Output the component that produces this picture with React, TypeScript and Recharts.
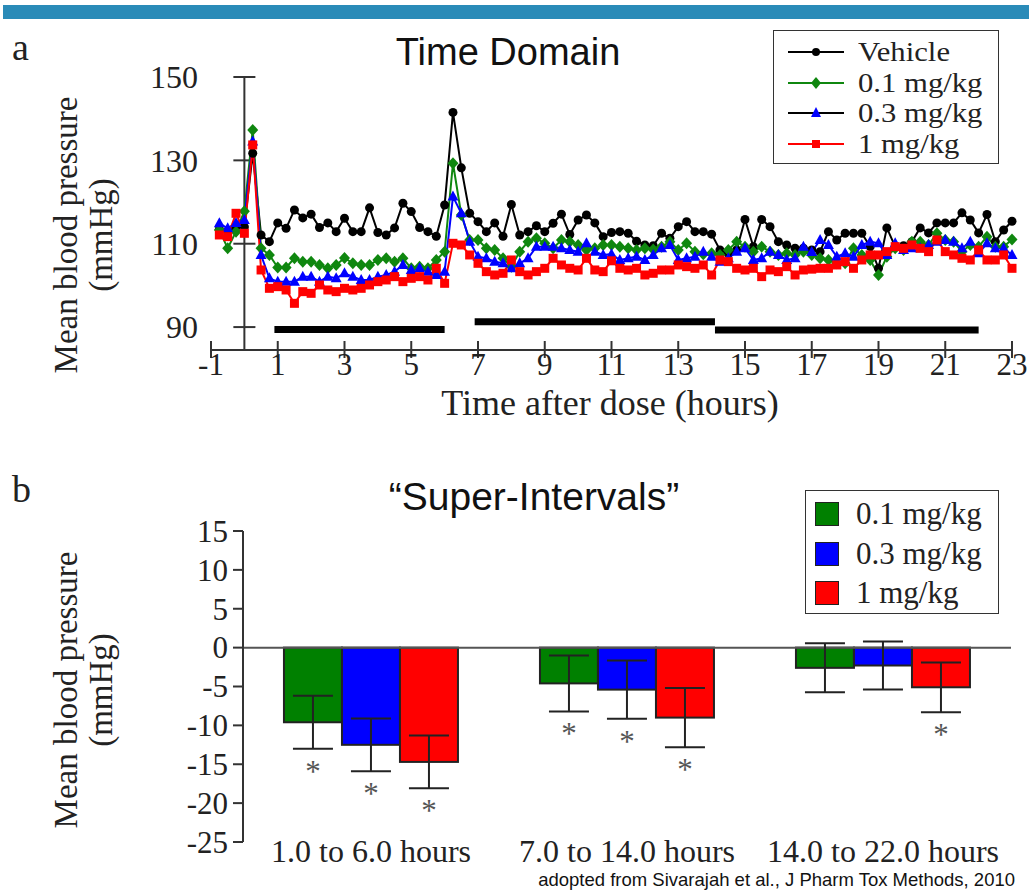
import React from "react";
import { LineChart, Line, XAxis, YAxis, ReferenceLine, BarChart, Bar, ErrorBar } from "recharts";

const SERIF = '"Liberation Serif", "Times New Roman", serif';
const SANS = '"Liberation Sans", Arial, sans-serif';

// ---- panel a: time domain (15 min samples) ----
const hours = [
  -0.75, -0.5, -0.25, 0, 0.25, 0.5, 0.75, 1, 1.25, 1.5, 1.75, 2, 2.25, 2.5, 2.75, 3,
  3.25, 3.5, 3.75, 4, 4.25, 4.5, 4.75, 5, 5.25, 5.5, 5.75, 6, 6.25, 6.5, 6.75, 7,
  7.25, 7.5, 7.75, 8, 8.25, 8.5, 8.75, 9, 9.25, 9.5, 9.75, 10, 10.25, 10.5, 10.75, 11,
  11.25, 11.5, 11.75, 12, 12.25, 12.5, 12.75, 13, 13.25, 13.5, 13.75, 14, 14.25, 14.5, 14.75, 15,
  15.25, 15.5, 15.75, 16, 16.25, 16.5, 16.75, 17, 17.25, 17.5, 17.75, 18, 18.25, 18.5, 18.75, 19,
  19.25, 19.5, 19.75, 20, 20.25, 20.5, 20.75, 21, 21.25, 21.5, 21.75, 22, 22.25, 22.5, 22.75, 23,
];

const vehicle = [
  113.5, 113, 114, 114, 131.7, 112.1, 110.5, 115.0, 113.7, 118.1, 116.2, 117.1, 113.9, 115.0, 112.9, 116.1,
  112.9, 112.9, 118.6, 112.7, 112.1, 113.8, 119.7, 117.7, 113.9, 112.9, 111.8, 119.3, 141.5, 128.2, 117.3, 115.3,
  112.9, 115.0, 111.8, 119.4, 112.1, 112.9, 114.3, 112.9, 114.9, 117.1, 112.2, 115.7, 116.9, 115.0, 111.7, 112.7,
  112.9, 112.5, 110.6, 109.7, 109.5, 112.5, 111.3, 114.1, 115.3, 112.9, 112.9, 112.3, 108.5, 107.7, 108.5, 115.8,
  109.3, 115.8, 114.1, 110.5, 109.7, 108.9, 108.9, 108.5, 108.1, 112.9, 110.9, 112.5, 112.5, 112.5, 109.3, 104.1,
  113.8, 109.3, 109.5, 110.5, 113.8, 112.6, 115.0, 115.0, 115.0, 117.4, 115.7, 112.6, 117.0, 110.5, 113.3, 115.4,
];

const dose01 = [
  113.3, 108.9, 112.9, 117.8, 137.3, 108.9, 107.3, 104.3, 104.3, 106.5, 105.7, 105.7, 104.9, 104.1, 104.9, 106.6,
  105.3, 104.9, 104.9, 106.1, 106.5, 105.7, 106.5, 104.1, 104.5, 104.1, 106.1, 108.1, 129.3, 116.9, 110.9, 110.9,
  108.9, 108.5, 106.5, 104.5, 108.1, 110.5, 111.3, 110.1, 108.9, 110.9, 110.5, 109.7, 108.5, 108.9, 109.7, 109.7,
  109.3, 108.9, 108.5, 108.9, 108.6, 109.3, 110.5, 108.5, 110.1, 108.1, 107.5, 107.7, 107.3, 108.5, 110.5, 109.3,
  108.1, 109.3, 108.1, 107.3, 107.7, 107.3, 108.1, 107.3, 106.5, 106.1, 105.3, 105.3, 108.9, 107.3, 106.1, 102.5,
  106.9, 108.9, 108.5, 110.5, 110.5, 109.7, 112.5, 110.9, 110.5, 108.1, 109.7, 109.3, 111.7, 109.3, 109.3, 111.0,
];

const dose03 = [
  114.9, 113.7, 115.0, 115.7, 134.5, 107.3, 101.7, 100.9, 100.9, 100.9, 102.1, 102.1, 100.9, 102.1, 101.7, 102.9,
  102.1, 101.3, 101.3, 102.1, 102.5, 103.3, 104.9, 103.7, 104.1, 103.3, 102.5, 103.3, 121.3, 117.3, 110.5, 106.9,
  106.5, 105.7, 105.3, 104.1, 105.3, 106.5, 109.3, 109.3, 109.3, 108.9, 108.5, 108.1, 110.1, 108.1, 107.3, 107.5,
  106.1, 106.5, 106.9, 106.1, 107.3, 108.9, 109.7, 106.1, 106.5, 106.9, 108.1, 106.9, 105.7, 106.5, 108.1, 108.9,
  106.1, 106.5, 108.1, 107.3, 106.1, 106.5, 109.3, 108.0, 110.9, 109.7, 106.9, 107.7, 106.9, 109.7, 110.5, 110.1,
  107.3, 110.1, 108.5, 108.9, 108.9, 109.7, 110.5, 110.9, 110.5, 108.9, 110.5, 107.7, 110.1, 108.9, 108.9, 107.3,
];

const dose1 = [
  112.1, 111.7, 117.3, 112.5, 133.7, 103.7, 99.3, 99.7, 98.9, 95.7, 98.5, 98.1, 100.1, 98.9, 98.5, 99.3,
  98.9, 99.3, 100.1, 100.9, 101.3, 102.1, 100.9, 101.7, 102.1, 101.3, 104.1, 100.5, 110.1, 109.7, 107.3, 105.3,
  103.3, 102.5, 102.9, 106.1, 103.3, 102.5, 103.3, 104.1, 106.5, 104.9, 104.1, 103.7, 106.5, 103.7, 103.3, 105.9,
  104.1, 103.7, 104.1, 102.5, 102.9, 103.7, 103.7, 104.9, 104.5, 104.1, 104.9, 102.5, 106.1, 105.7, 104.1, 103.7,
  104.1, 102.1, 103.7, 103.3, 104.5, 102.5, 103.7, 103.9, 104.1, 104.1, 104.9, 105.7, 104.1, 106.1, 107.3, 107.3,
  108.1, 109.3, 108.9, 109.7, 108.9, 108.1, 110.9, 108.1, 107.3, 106.5, 106.1, 108.5, 106.1, 106.1, 107.3, 104.1,
];

// super-interval bars under the traces: start h, end h, level
const intervalStart = [0.9, 6.9, 14.1];
const intervalEnd = [6.0, 14.1, 22.0];
const intervalLevel = [89.4, 91.3, 89.3];

const topXTicks = [-1, 1, 3, 5, 7, 9, 11, 13, 15, 17, 19, 21, 23];
const topYTicks = [90, 110, 130, 150];

// ---- panel b: super-intervals ----
const intervals = ["1.0 to 6.0 hours", "7.0 to 14.0 hours", "14.0 to 22.0 hours"];
const change01 = [-9.6, -4.6, -2.6];
const change03 = [-12.5, -5.4, -2.3];
const change1 = [-14.7, -9.0, -5.1];
const err01 = [3.4, 3.6, 3.15];
const err03 = [3.4, 3.75, 3.1];
const err1 = [3.4, 3.8, 3.2];
const sig01 = [true, true, false];
const sig03 = [true, true, false];
const sig1 = [true, true, true];
const bottomYTicks = [-25, -20, -15, -10, -5, 0, 5, 10, 15];

const timeRows = hours.map((t, i) => ({
  t,
  vehicle: vehicle[i],
  d01: dose01[i],
  d03: dose03[i],
  d1: dose1[i],
}));

const barRows = intervals.map((name, i) => ({
  name,
  d01: change01[i], e01: err01[i], s01: sig01[i],
  d03: change03[i], e03: err03[i], s03: sig03[i],
  d1: change1[i], e1: err1[i], s1: sig1[i],
}));

const GREEN = "#0f870f";
const BLUE = "#0000ff";
const RED = "#ff0000";

const circleDot = (p: any) => <circle key={p.index} cx={p.cx} cy={p.cy} r={4.5} fill="#000" />;
const diamondDot = (p: any) => (
  <polygon key={p.index} points={`${p.cx},${p.cy - 6} ${p.cx + 5.5},${p.cy} ${p.cx},${p.cy + 6} ${p.cx - 5.5},${p.cy}`} fill={GREEN} />
);
const triangleDot = (p: any) => (
  <polygon key={p.index} points={`${p.cx},${p.cy - 6} ${p.cx + 5.5},${p.cy + 4} ${p.cx - 5.5},${p.cy + 4}`} fill={BLUE} />
);
const squareDot = (p: any) => <rect key={p.index} x={p.cx - 4.5} y={p.cy - 4.5} width={9} height={9} fill={RED} />;

const TopYTick = ({ x, y, payload }: any) => (
  <text x={x} y={y} dy="0.35em" textAnchor="end" fontFamily={SERIF} fontSize={32} fill="#222">
    {payload.value}
  </text>
);

const TopXTick = ({ x, y, payload }: any) => (
  <g>
    <line x1={x} x2={x} y1={y - 9} y2={y + 8} stroke="#333" strokeWidth={2} />
    <text x={x} y={y + 25} textAnchor="middle" fontFamily={SERIF} fontSize={31} fill="#222">
      {payload.value}
    </text>
  </g>
);

const BottomYTick = ({ x, y, payload }: any) => (
  <text x={x} y={y} dy="0.35em" textAnchor="end" fontFamily={SERIF} fontSize={31} fill="#222">
    {payload.value}
  </text>
);

const BottomXTick = ({ x, y, payload }: any) => (
  <text x={x} y={y + 20} textAnchor="middle" fontFamily={SERIF} fontSize={32} fill="#222">
    {payload.value}
  </text>
);

const makeBarShape = (valueKey: string, errKey: string, sigKey: string) => (props: any) => {
  const { x, y, width, height, fill, payload } = props;
  const top = Math.min(y, y + height);
  const h = Math.abs(height);
  const v = Math.abs(payload[valueKey]);
  const ppu = v > 0 ? h / v : 0;
  const lower = top + h + payload[errKey] * ppu;
  return (
    <g>
      <rect x={x} y={top} width={width} height={h} fill={fill} stroke="#222" strokeWidth={2} />
      {payload[sigKey] && (
        <text x={x + width / 2} y={lower + 33} textAnchor="middle" fontFamily={SERIF} fontSize={31} fill="#555">
          *
        </text>
      )}
    </g>
  );
};

const legendLineItems = [
  { label: "Vehicle", line: "#000", dot: "circle" },
  { label: "0.1 mg/kg", line: GREEN, dot: "diamond" },
  { label: "0.3 mg/kg", line: "#000", dot: "triangle" },
  { label: "1 mg/kg", line: RED, dot: "square" },
];

const legendBarItems = [
  { label: "0.1 mg/kg", color: "#008000" },
  { label: "0.3 mg/kg", color: BLUE },
  { label: "1 mg/kg", color: RED },
];

const LegendMarker = ({ kind }: { kind: string }) => {
  if (kind === "circle") return <circle cx={28} cy={10} r={4} fill="#000" />;
  if (kind === "diamond") return <polygon points="28,4 33,10 28,16 23,10" fill={GREEN} />;
  if (kind === "triangle") return <polygon points="28,4 33,14 23,14" fill={BLUE} />;
  return <rect x={24} y={6} width={8} height={8} fill={RED} />;
};

const abs = (left: number, top: number, extra: React.CSSProperties = {}): React.CSSProperties => ({
  position: "absolute",
  left,
  top,
  ...extra,
});

export default function App() {
  return (
    <div style={{ position: "absolute", left: 0, top: 0, width: 1029, height: 890, background: "#fff", overflow: "hidden" }}>
      <div style={abs(3, 5, { width: 1026, height: 14, background: "#2a8bb8" })} />

      <div style={abs(12, 28, { fontFamily: SERIF, fontSize: 38, lineHeight: "38px", color: "#222" })}>a</div>
      <div style={abs(12, 470, { fontFamily: SERIF, fontSize: 38, lineHeight: "38px", color: "#222" })}>b</div>

      <div style={abs(508, 52, { transform: "translate(-50%, -50%)", fontFamily: SANS, fontSize: 38, whiteSpace: "nowrap", color: "#111" })}>
        Time Domain
      </div>
      <div style={abs(534, 497, { transform: "translate(-50%, -50%)", fontFamily: SANS, fontSize: 39, whiteSpace: "nowrap", color: "#111" })}>
        “Super-Intervals”
      </div>

      {/* y axis titles */}
      {[235, 690].map((cy) => (
        <React.Fragment key={cy}>
          <div style={abs(66, cy, { transform: "translate(-50%, -50%) rotate(-90deg)", fontFamily: SERIF, fontSize: 33, whiteSpace: "nowrap", color: "#222" })}>
            Mean blood pressure
          </div>
          <div style={abs(101, cy, { transform: "translate(-50%, -50%) rotate(-90deg)", fontFamily: SERIF, fontSize: 33, whiteSpace: "nowrap", color: "#222" })}>
            (mmHg)
          </div>
        </React.Fragment>
      ))}

      <div style={abs(0, 0)}>
        <LineChart width={1029} height={420} data={timeRows} margin={{ top: 77, right: 17, bottom: 40, left: 151 }}>
          <XAxis
            type="number"
            dataKey="t"
            domain={[-1, 23]}
            ticks={topXTicks}
            interval={0}
            height={30}
            axisLine={{ stroke: "#333", strokeWidth: 2 }}
            tickLine={false}
            tickSize={0}
            tickMargin={0}
            tick={<TopXTick />}
          />
          <YAxis
            type="number"
            domain={[84.5, 150]}
            ticks={topYTicks}
            width={60}
            axisLine={false}
            tickLine={false}
            tickSize={0}
            tickMargin={13}
            tick={<TopYTick />}
          />
          <ReferenceLine x={0} stroke="#333" strokeWidth={2} />
          {topYTicks.map((v) => (
            <ReferenceLine key={v} segment={[{ x: -0.33, y: v }, { x: 0.33, y: v }]} stroke="#333" strokeWidth={2} />
          ))}
          {intervalStart.map((s, i) => (
            <ReferenceLine
              key={`iv${i}`}
              segment={[{ x: s, y: intervalLevel[i] }, { x: intervalEnd[i], y: intervalLevel[i] }]}
              stroke="#000"
              strokeWidth={7}
            />
          ))}
          <Line type="linear" dataKey="vehicle" stroke="#000" strokeWidth={2} dot={circleDot} isAnimationActive={false} />
          <Line type="linear" dataKey="d01" stroke={GREEN} strokeWidth={2} dot={diamondDot} isAnimationActive={false} />
          <Line type="linear" dataKey="d03" stroke={BLUE} strokeWidth={2} dot={triangleDot} isAnimationActive={false} />
          <Line type="linear" dataKey="d1" stroke={RED} strokeWidth={2} dot={squareDot} isAnimationActive={false} />
        </LineChart>
      </div>

      <div style={abs(610, 403, { transform: "translate(-50%, -50%)", fontFamily: SERIF, fontSize: 36, whiteSpace: "nowrap", color: "#222" })}>
        Time after dose (hours)
      </div>

      {/* legend a */}
      <div style={abs(773, 30, { width: 224, height: 132, border: "1.5px solid #333", background: "#fff" })}>
        {legendLineItems.map((it, i) => (
          <div key={it.label} style={abs(0, 6 + i * 30.5, { display: "flex", alignItems: "center", height: 30 })}>
            <svg width={84} height={20} style={{ marginLeft: 14 }}>
              <line x1={0} x2={56} y1={10} y2={10} stroke={it.line} strokeWidth={2} />
              <LegendMarker kind={it.dot} />
            </svg>
            <span
              style={{
                fontFamily: SERIF,
                fontSize: 26,
                lineHeight: "28px",
                color: "#222",
                whiteSpace: "nowrap",
                marginLeft: -14,
                display: "inline-block",
                transform: "scale(1.18, 1.08)",
                transformOrigin: "left center",
              }}
            >
              {it.label}
            </span>
          </div>
        ))}
      </div>

      <div style={abs(0, 440)}>
        <BarChart width={1029} height={450} data={barRows} margin={{ top: 91, right: 18, bottom: 18, left: 183 }} barCategoryGap="16%" barGap={0}>
          <XAxis dataKey="name" height={30} axisLine={false} tickLine={false} tickSize={0} tickMargin={0} tick={<BottomXTick />} interval={0} />
          <YAxis
            type="number"
            domain={[-25, 15]}
            ticks={bottomYTicks}
            width={60}
            axisLine={{ stroke: "#333", strokeWidth: 2 }}
            tickLine={{ stroke: "#333", strokeWidth: 2 }}
            tickSize={10}
            tickMargin={5}
            tick={<BottomYTick />}
          />
          <ReferenceLine y={0} stroke="#555" strokeWidth={2} />
          <Bar dataKey="d01" fill="#008000" isAnimationActive={false} shape={makeBarShape("d01", "e01", "s01")}>
            <ErrorBar dataKey="e01" width={20} stroke="#222" strokeWidth={2} direction="y" />
          </Bar>
          <Bar dataKey="d03" fill={BLUE} isAnimationActive={false} shape={makeBarShape("d03", "e03", "s03")}>
            <ErrorBar dataKey="e03" width={20} stroke="#222" strokeWidth={2} direction="y" />
          </Bar>
          <Bar dataKey="d1" fill={RED} isAnimationActive={false} shape={makeBarShape("d1", "e1", "s1")}>
            <ErrorBar dataKey="e1" width={20} stroke="#222" strokeWidth={2} direction="y" />
          </Bar>
        </BarChart>
      </div>

      {/* legend b */}
      <div style={abs(805, 490, { width: 192, height: 122, border: "1.5px solid #333", background: "#fff" })}>
        {legendBarItems.map((it, i) => (
          <div key={it.label} style={abs(0, 8 + i * 39.5, { display: "flex", alignItems: "center", height: 30 })}>
            <div style={{ width: 22, height: 22, marginLeft: 9, background: it.color, border: "1.5px solid #222" }} />
            <span style={{ fontFamily: SERIF, fontSize: 31, lineHeight: "30px", color: "#222", whiteSpace: "nowrap", marginLeft: 17 }}>{it.label}</span>
          </div>
        ))}
      </div>

      <div style={abs(1015, 880, { transform: "translate(-100%, -50%)", fontFamily: SANS, fontSize: 18.5, whiteSpace: "nowrap", color: "#111" })}>
        adopted from Sivarajah et al., J Pharm Tox Methods, 2010
      </div>
    </div>
  );
}
